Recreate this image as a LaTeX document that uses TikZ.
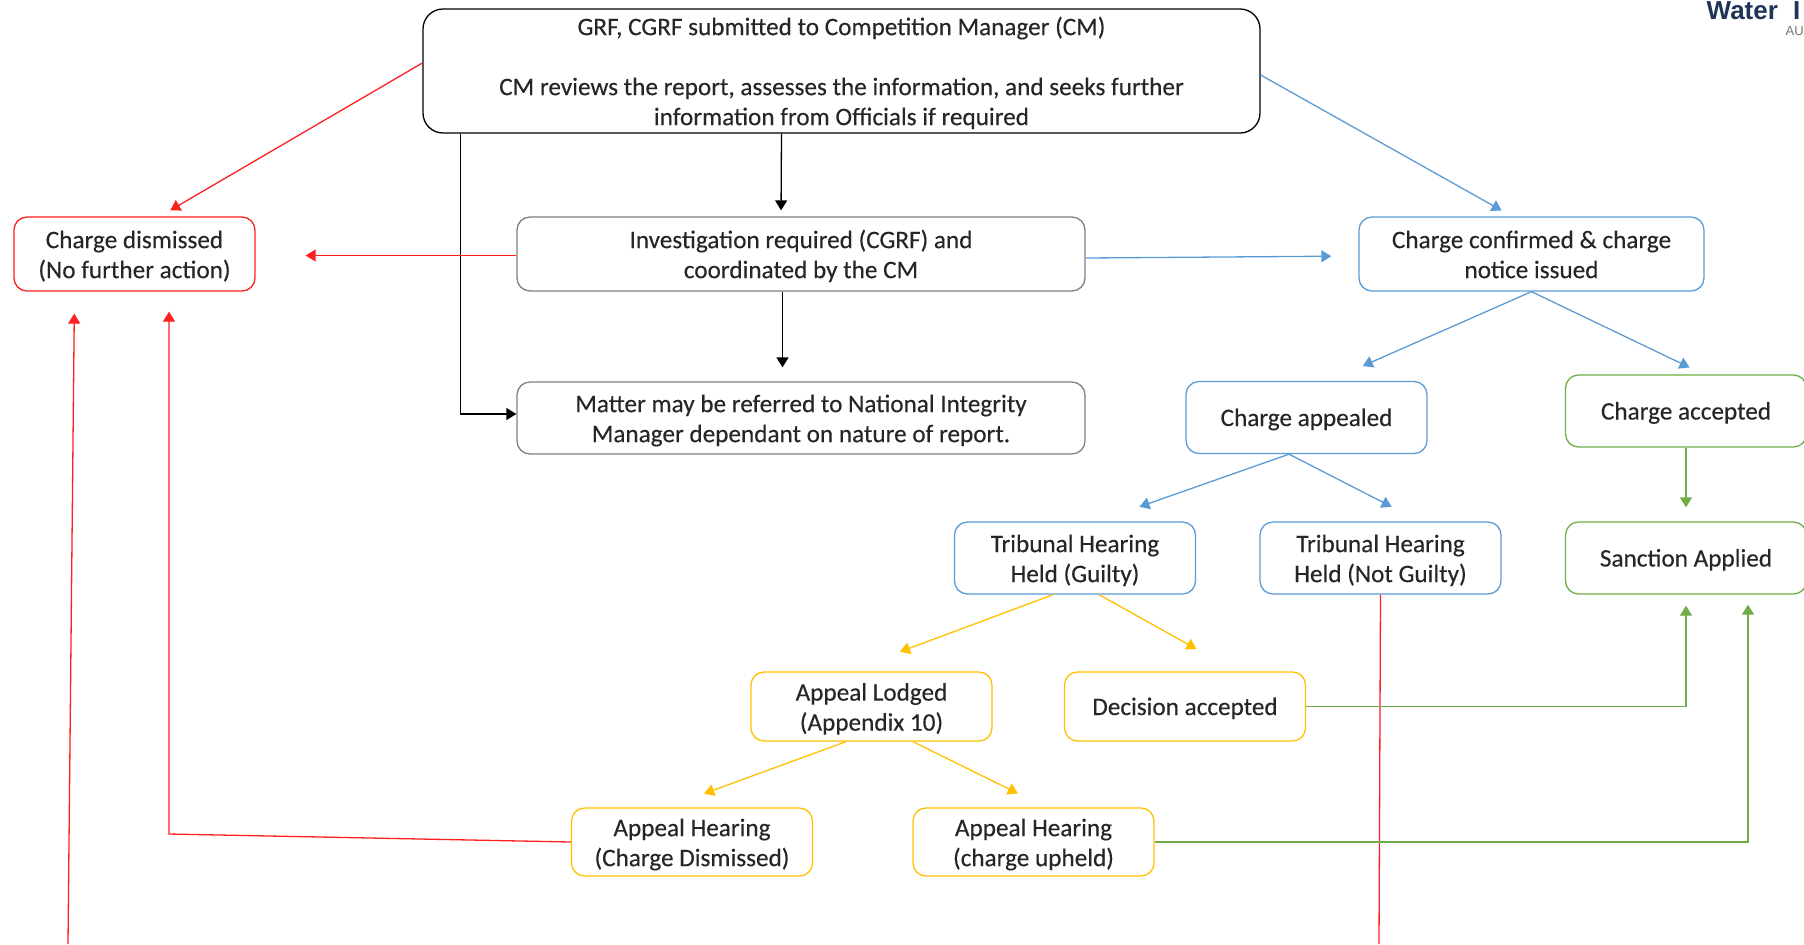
\documentclass[tikz,border=0pt]{standalone}
\usepackage{fontspec}
\setmainfont{Carlito}[FakeBold=0.25,AutoFakeBold=false]
\newfontfamily\logofont{Liberation Sans}
\usetikzlibrary{arrows.meta}
\definecolor{redline}{HTML}{FF1F1F}
\definecolor{blueline}{HTML}{5B9BD5}
\definecolor{greenline}{HTML}{70AD47}
\definecolor{yellowline}{HTML}{FFC000}
\definecolor{textdark}{HTML}{262626}
\definecolor{logonavy}{HTML}{1F3557}
\newcommand{\firstrow}{\rule{0pt}{12.6pt}}

\begin{document}
\begin{tikzpicture}[x=0.5pt,y=-0.5pt,line width=0.65pt,
      box/.style={shape=rectangle,draw,rounded corners=6.5pt,align=center,inner sep=0pt,
        minimum width=120.5pt,minimum height=36pt,text=textdark,font=\fontsize{12.6}{15}\selectfont,
        execute at begin node={\rule{0pt}{12pt}},execute at end node={\rule[-3.5pt]{0pt}{0pt}}},
      wide/.style={box,minimum width=284pt,draw=black!50},
      link/.style={-{Triangle[length=5pt,width=6pt]},shorten >=3pt}]
  \useasboundingbox (0,0) rectangle (1804,944);
  \clip (0,0) rectangle (1804,944);

  \node [box,draw=black,rounded corners=10pt,minimum width=418.5pt,minimum height=62pt] (report) at (841.5,71)
    {\firstrow GRF, CGRF submitted to Competition Manager (CM)\\ \\CM reviews the report, assesses the information, and seeks further\\information from Officials if required};
  \node [box,draw=redline,minimum height=37pt] (dismissed) at (134.5,254) {\firstrow Charge dismissed\\(No further action)};
  \node [wide,minimum height=37pt] (investigation) at (801,254) {\firstrow Investigation required (CGRF) and\\coordinated by the CM};
  \node [wide] (referred) at (801,418) {\firstrow Matter may be referred to National Integrity\\Manager dependant on nature of report.};
  \node [box,draw=blueline,minimum width=172.5pt,minimum height=37pt] (confirmed) at (1531.5,254) {\firstrow Charge confirmed \& charge\\notice issued};
  \node [box,draw=blueline] (appealed) at (1306.5,417.5) {Charge appealed};
  \node [box,draw=greenline] (accepted) at (1686,411) {Charge accepted};
  \node [box,draw=blueline] (guilty) at (1075,558) {\firstrow Tribunal Hearing\\Held (Guilty)};
  \node [box,draw=blueline] (notguilty) at (1380.5,558) {\firstrow Tribunal Hearing\\Held (Not Guilty)};
  \node [box,draw=greenline] (sanction) at (1686,558) {Sanction Applied};
  \node [box,draw=yellowline,minimum height=34.5pt] (lodged) at (871.5,706.5) {\firstrow Appeal Lodged\\(Appendix 10)};
  \node [box,draw=yellowline,minimum height=34.5pt] (decision) at (1185,706.5) {Decision accepted};
  \node [box,draw=yellowline,minimum height=34pt] (hearingdismissed) at (692,842) {\firstrow Appeal Hearing\\(Charge Dismissed)};
  \node [box,draw=yellowline,minimum height=34pt] (hearingupheld) at (1033.5,842) {\firstrow Appeal Hearing\\(charge upheld)};

  % logo in the corner
  \node [anchor=base west,inner sep=0pt,text=logonavy,font=\fontsize{13}{13}\selectfont\logofont\bfseries] (logo) at (1706,19) {Water\hspace{4pt} I};
  \node [anchor=base west,inner sep=0pt,text=black!55,font=\fontsize{6.5}{7}\selectfont\logofont] (logosub) at (1785,35) {AU};

  % free ends at the bottom of the page
  \coordinate (bottomleft) at (68,944);
  \coordinate (bottomright) at (1379,944);
  \coordinate (hearingbend) at (169,834);

  % black
  \draw [link] ([xshift=-30pt]report.south) -- ([xshift=-10pt]investigation.north);
  \draw [link,shorten >=7pt] ([xshift=-9.25pt]investigation.south) -- ([xshift=-9.25pt]referred.north);
  \draw [link,shorten >=0pt] ([xshift=-190.5pt]report.south) |- ([yshift=2pt]referred.west);

  % red
  \draw [link,draw=redline,shorten >=6pt] ([yshift=4pt]report.west) -- ([xshift=12.7pt]dismissed.north);
  \draw [link,draw=redline,shorten >=25pt] ([yshift=-0.75pt]investigation.west) -- ([yshift=-0.75pt]dismissed.east);
  \draw [link,draw=redline,shorten >=10pt] (hearingdismissed.west) -- (hearingbend) -- ([xshift=17.25pt]dismissed.south);
  \draw [link,draw=redline,shorten >=11pt] (bottomleft) -- ([xshift=-30pt]dismissed.south);
  \draw [draw=redline] (notguilty.south) -- (bottomright);

  % blue
  \draw [link,draw=blueline,shorten >=6pt] ([yshift=-2pt]report.east) -- ([xshift=-9.7pt]confirmed.north);
  \draw [link,draw=blueline,shorten >=13.5pt] ([yshift=-2pt]investigation.east) -- ([yshift=-1pt]confirmed.west);
  \draw [link,draw=blueline,shorten >=18.5pt] (confirmed.south) -- ([xshift=11.2pt]appealed.north);
  \draw [link,draw=blueline,shorten >=8pt] (confirmed.south) -- ([xshift=9pt]accepted.north);
  \draw [link,draw=blueline,shorten >=22pt] ([xshift=-8.75pt]appealed.south) -- ([xshift=11.5pt]guilty.north);
  \draw [link,draw=blueline,shorten >=16pt] ([xshift=-8.75pt]appealed.south) -- ([xshift=19.8pt]notguilty.north);

  % yellow
  \draw [link,draw=yellowline,shorten >=28pt] ([xshift=-11pt]guilty.south) -- ([xshift=-12pt]lodged.north);
  \draw [link,draw=yellowline,shorten >=23pt] ([xshift=12pt]guilty.south) -- ([xshift=25.8pt]decision.north);
  \draw [link,draw=yellowline,shorten >=20pt] ([xshift=-12.75pt]lodged.south) -- ([xshift=-12.75pt]hearingdismissed.north);
  \draw [link,draw=yellowline,shorten >=15.7pt] ([xshift=20.75pt]lodged.south) -- ([xshift=6.25pt]hearingupheld.north);

  % green
  \draw [link,draw=greenline,shorten >=7pt] (accepted.south) -- (sanction.north);
  \draw [link,draw=greenline,shorten >=5.5pt] (decision.east) -| (sanction.south);
  \draw [link,draw=greenline,shorten >=5pt] (hearingupheld.east) -| ([xshift=31pt]sanction.south);
\end{tikzpicture}
\end{document}
